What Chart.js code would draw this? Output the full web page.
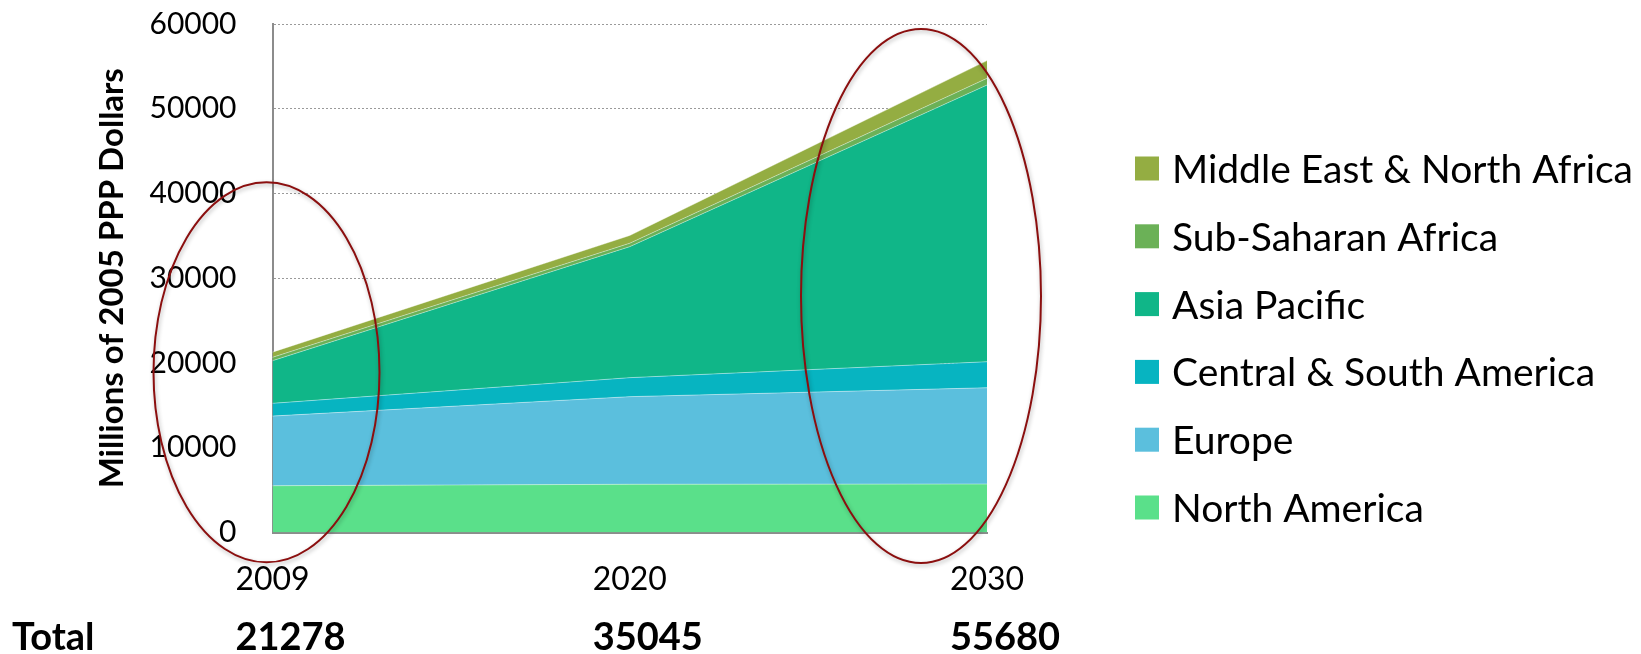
<!DOCTYPE html>
<html>
<head>
<meta charset="utf-8">
<script src="https://cdn.jsdelivr.net/npm/chart.js@4.4.1/dist/chart.umd.min.js"></script>
<style>
  html, body { margin: 0; padding: 0; background: #fff; }
  #wrap { width: 1641px; height: 654px; }
</style>
</head>
<body>
<div id="wrap"><canvas id="gdpChart" width="1641" height="654"></canvas></div>
<script>
// Dati (milioni di dollari PPP 2005)
var years = ['2009', '2020', '2030'];
var northAmerica = [5520, 5690, 5720];
var europe = [8220, 10340, 11360];
var centralSouthAmerica = [1500, 2240, 3070];
var asiaPacific = [5030, 15460, 32650];
var subSaharanAfrica = [400, 400, 790];
var middleEastNorthAfrica = [608, 915, 2090];
var totals = [21278, 35045, 55680];
var yMin = 0, yMax = 60000, yStep = 10000;

Chart.defaults.font.family = 'Lato, "Open Sans", sans-serif';
Chart.defaults.color = '#000';

function area(label, data, color, fill) {
  return {
    label: label,
    data: data,
    backgroundColor: color,
    borderColor: 'rgba(255,255,255,0.4)',
    borderWidth: 1,
    pointRadius: 0,
    pointHoverRadius: 0,
    tension: 0,
    fill: fill
  };
}

// Legenda a destra (ordine inverso, come nell'originale)
var sideLegend = {
  id: 'sideLegend',
  afterDraw: function(chart) {
    var ctx = chart.ctx;
    var ds = chart.data.datasets;
    ctx.save();
    ctx.font = '39px Lato';
    ctx.textBaseline = 'middle';
    for (var i = 0; i < ds.length; i++) {
      var d = ds[ds.length - 1 - i];
      var y = 168.5 + i * 67.8;
      ctx.fillStyle = d.backgroundColor;
      ctx.fillRect(1135, y - 12, 24, 24);
      ctx.fillStyle = '#000';
      ctx.fillText(d.label, 1172, y + 2);
    }
    ctx.restore();
  }
};

// Riga dei totali sotto l'asse x
var totalsRow = {
  id: 'totalsRow',
  afterDraw: function(chart) {
    var ctx = chart.ctx;
    var xs = chart.scales.x;
    ctx.save();
    ctx.font = '32px Lato';
    var half = ctx.measureText(years[0]).width / 2;
    ctx.font = 'bold 38px Lato';
    ctx.textBaseline = 'middle';
    ctx.fillStyle = '#000';
    ctx.fillText('Total', 12, 638);
    for (var i = 0; i < totals.length; i++) {
      ctx.fillText(String(totals[i]), xs.getPixelForTick(i) - half, 638);
    }
    ctx.restore();
  }
};

// Ellissi rosse di evidenziazione
var highlights = [
  { index: 0, dx: -6, value: 18900, rx: 113, ry: 190 },
  { index: 2, dx: -66, value: 27900, rx: 120, ry: 267 }
];
var ellipses = {
  id: 'ellipses',
  afterDraw: function(chart) {
    var ctx = chart.ctx;
    ctx.save();
    ctx.strokeStyle = '#8b0f0f';
    ctx.lineWidth = 2;
    ctx.shadowColor = 'rgba(0,0,0,0.3)';
    ctx.shadowBlur = 4;
    ctx.shadowOffsetX = 1;
    ctx.shadowOffsetY = 2;
    highlights.forEach(function(h) {
      var cx = chart.scales.x.getPixelForTick(h.index) + h.dx;
      var cy = chart.scales.y.getPixelForValue(h.value);
      ctx.beginPath();
      ctx.ellipse(cx, cy, h.rx, h.ry, 0, 0, Math.PI * 2);
      ctx.stroke();
    });
    ctx.restore();
  }
};

var ctx = document.getElementById('gdpChart').getContext('2d');
var chart = new Chart(ctx, {
  type: 'line',
  data: {
    labels: years,
    datasets: [
      area('North America', northAmerica, '#5AE08A', 'origin'),
      area('Europe', europe, '#5BBFDD', '-1'),
      area('Central & South America', centralSouthAmerica, '#07B4C1', '-1'),
      area('Asia Pacific', asiaPacific, '#10B688', '-1'),
      area('Sub-Saharan Africa', subSaharanAfrica, '#6BB157', '-1'),
      area('Middle East & North Africa', middleEastNorthAfrica, '#94AD42', '-1')
    ]
  },
  options: {
    responsive: false,
    animation: false,
    events: [],
    layout: { padding: { top: 24, right: 654, bottom: 0, left: 0 } },
    plugins: {
      legend: { display: false },
      tooltip: { enabled: false }
    },
    scales: {
      x: {
        offset: false,
        grid: { display: false, drawTicks: false },
        border: { color: '#8c8c8c', width: 2 },
        ticks: { font: { size: 32 }, padding: 28, maxRotation: 0, autoSkip: false },
        afterFit: function(scale) { scale.height = 121.5; }
      },
      y: {
        stacked: true,
        min: yMin,
        max: yMax,
        grid: { color: '#9a9a9a', lineWidth: 1, drawTicks: false },
        border: { color: '#8c8c8c', width: 2, dash: [2, 2] },
        ticks: {
          stepSize: yStep,
          font: { size: 30 },
          padding: 36,
          callback: function(v) { return String(v); }
        },
        title: {
          display: true,
          text: 'Millions of 2005 PPP Dollars',
          font: { size: 33, weight: 'bold' },
          padding: { top: 93, bottom: 0 }
        },
        afterFit: function(scale) {
          scale.width = 272.5;
          scale.paddingTop = 0;
          scale.paddingBottom = 0;
        }
      }
    }
  },
  plugins: [sideLegend, totalsRow, ellipses]
});
</script>
</body>
</html>
